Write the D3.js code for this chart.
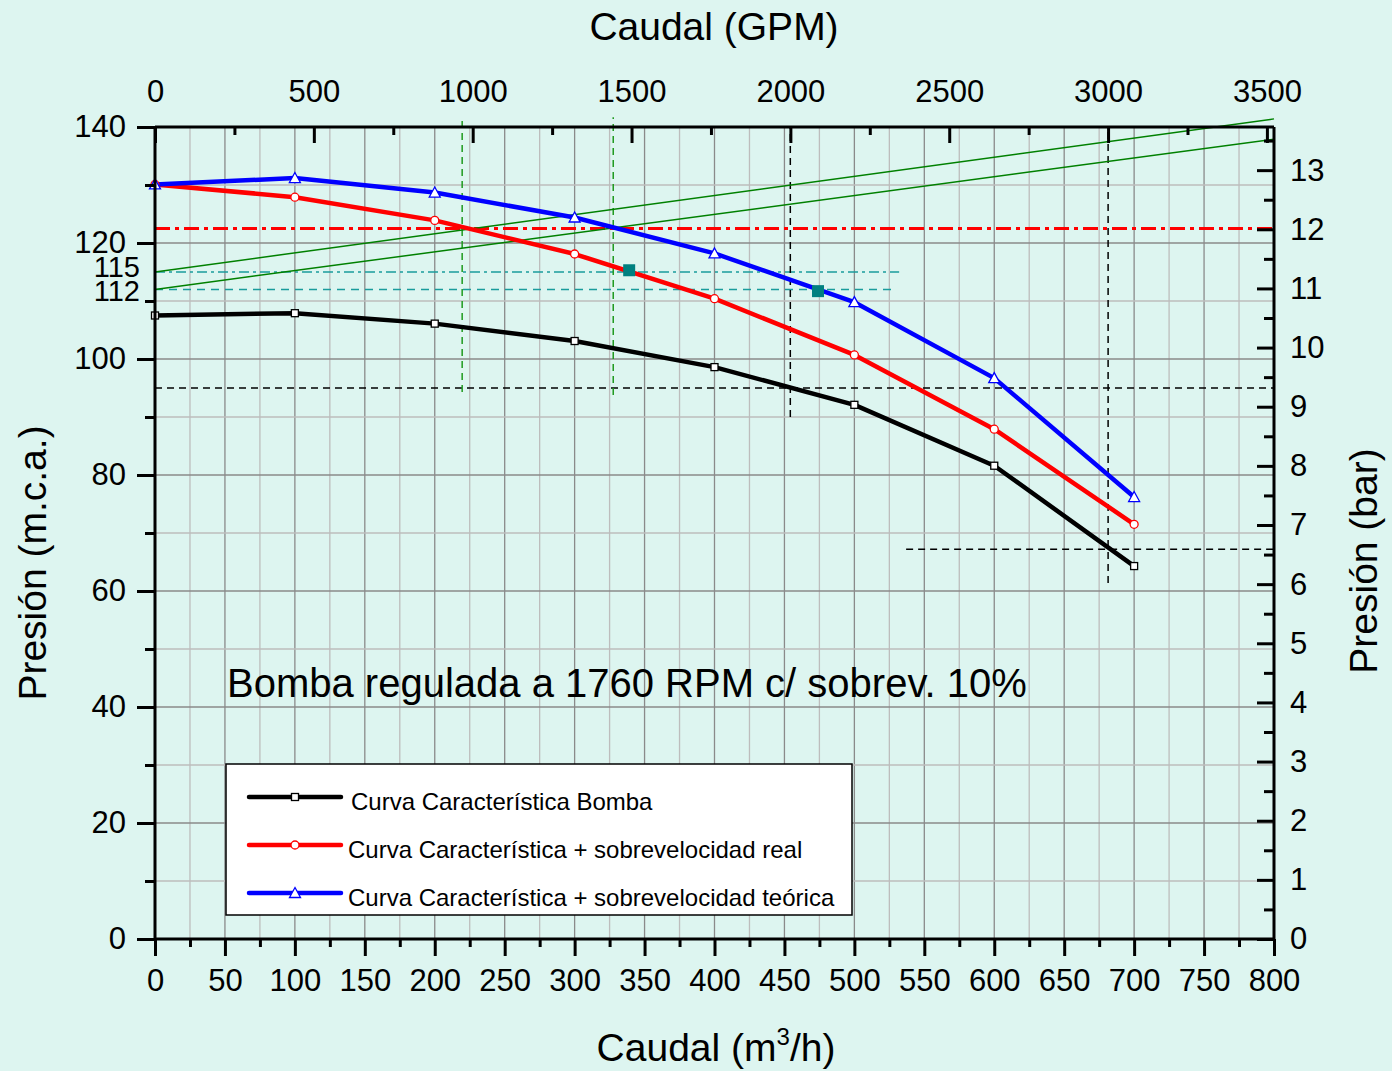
<!DOCTYPE html>
<html>
<head>
<meta charset="utf-8">
<script src="https://cdn.jsdelivr.net/npm/d3@7"></script>
<style>
  body { margin: 0; background: #ddf5f0; }
  svg { display: block; font-family: "Liberation Sans", Arial, sans-serif; }
</style>
</head>
<body>
<svg id="chart" width="1392" height="1071"></svg>
<script>
// ---- data ----
const caudal = [0, 100, 200, 300, 400, 500, 600, 700];
const bomba = [107.5, 107.9, 106.1, 103.1, 98.6, 92.1, 81.6, 64.3];
const sobreReal = [130.1, 127.9, 123.9, 118.1, 110.4, 100.7, 87.9, 71.5];
const sobreTeorica = [130.1, 131.2, 128.7, 124.4, 118.2, 109.8, 96.7, 76.2];
const seriesNames = [
    "Curva Característica Bomba",
    "Curva Característica + sobrevelocidad real",
    "Curva Característica + sobrevelocidad teórica"
];

// tick labels
const bottomTicks = [0, 50, 100, 150, 200, 250, 300, 350, 400, 450, 500, 550, 600, 650, 700, 750, 800];
const leftTicks = [0, 20, 40, 60, 80, 100, 120, 140];
const gpmTicks = [0, 500, 1000, 1500, 2000, 2500, 3000, 3500];
const barTicks = [0, 1, 2, 3, 4, 5, 6, 7, 8, 9, 10, 11, 12, 13];
const extraLeftLabels = [115, 112];

// unit conversions
const M3H_TO_GPM = 4.4029;
const MCA_PER_BAR = 10.197;

// horizontal reference lines (m.c.a.) and their x extent (m3/h)
const hLevels = [122.5, 115, 112, 95, 67.2];
const hFrom = [0, 0, 0, 0, 537];
const hTo = [800, 532, 528, 800, 800];

// vertical reference lines (m3/h) and their y extent (m.c.a.)
const vPositions = [454.2, 681.4, 219.6, 327.6];
const vFrom = [90, 61.4, 94.3, 93.8];
const vTo = [140, 140, 141.7, 141.7];

// two straight system lines: head at 0 and at 800 m3/h
const sysAt0 = [115, 112];
const sysAt800 = [141.4, 137.9];

// operating points
const opCaudal = [339, 474];
const opPresion = [115.3, 111.7];

const note = "Bomba regulada a 1760 RPM c/ sobrev. 10%";

// ---- layout ----
const svg = d3.select("#chart");
const plotLeft = 155, plotRight = 1274, plotTop = 127, plotBottom = 939;

const x = d3.scaleLinear().domain([0, 800]).range([plotLeft, plotRight]);
const y = d3.scaleLinear().domain([0, 140]).range([plotBottom, plotTop]);
const xTop = d3.scaleLinear().domain([0, 800 * M3H_TO_GPM]).range([plotLeft, plotRight]);
const yRight = d3.scaleLinear().domain([0, 140 / MCA_PER_BAR]).range([plotBottom, plotTop]);

svg.append("rect").attr("width", 1392).attr("height", 1071).attr("fill", "#ddf5f0");

// grid
const grid = svg.append("g");
d3.range(25, 800, 25).forEach(v => {
    grid.append("line")
        .attr("x1", x(v)).attr("x2", x(v))
        .attr("y1", plotTop).attr("y2", plotBottom)
        .attr("stroke", v % 50 === 0 ? "#8a8a8a" : "#bdbdbd")
        .attr("stroke-width", 1.3);
});
d3.range(10, 140, 10).forEach(v => {
    grid.append("line")
        .attr("x1", plotLeft).attr("x2", plotRight)
        .attr("y1", y(v)).attr("y2", y(v))
        .attr("stroke", v % 20 === 0 ? "#8a8a8a" : "#bdbdbd")
        .attr("stroke-width", 1.3);
});

// reference lines
const hStyle = [
    { color: "#ff0000", width: 3, dash: "15,5,4,5" },
    { color: "#1a9c9c", width: 1.5, dash: "10,4,3,4" },
    { color: "#1a9c9c", width: 1.5, dash: "8,6" },
    { color: "#000000", width: 1.5, dash: "7,5" },
    { color: "#000000", width: 1.5, dash: "7,5" }
];
hLevels.forEach((v, i) => {
    svg.append("line")
        .attr("x1", x(hFrom[i])).attr("x2", x(hTo[i]))
        .attr("y1", y(v)).attr("y2", y(v))
        .attr("stroke", hStyle[i].color)
        .attr("stroke-width", hStyle[i].width)
        .attr("stroke-dasharray", hStyle[i].dash);
});

const vColor = ["#000000", "#000000", "#1f9a1f", "#1f9a1f"];
vPositions.forEach((v, i) => {
    svg.append("line")
        .attr("x1", x(v)).attr("x2", x(v))
        .attr("y1", y(vFrom[i])).attr("y2", y(vTo[i]))
        .attr("stroke", vColor[i])
        .attr("stroke-width", 1.5)
        .attr("stroke-dasharray", "7,5");
});

sysAt0.forEach((v, i) => {
    svg.append("line")
        .attr("x1", x(0)).attr("x2", x(800))
        .attr("y1", y(v)).attr("y2", y(sysAt800[i]))
        .attr("stroke", "#008000")
        .attr("stroke-width", 1.5);
});

// series
const series = [
    { values: bomba, color: "#000000", marker: "square" },
    { values: sobreReal, color: "#ff0000", marker: "circle" },
    { values: sobreTeorica, color: "#0000ff", marker: "triangle" }
];

const line = d3.line().x(d => x(d[0])).y(d => y(d[1]));

function drawMarker(sel, type, color, cx, cy) {
    if (type === "square") {
        sel.append("rect")
            .attr("x", cx - 3.5).attr("y", cy - 3.5)
            .attr("width", 7).attr("height", 7)
            .attr("fill", "#fff").attr("stroke", color).attr("stroke-width", 1.3);
    } else if (type === "circle") {
        sel.append("circle")
            .attr("cx", cx).attr("cy", cy).attr("r", 4)
            .attr("fill", "#fff").attr("stroke", color).attr("stroke-width", 1.3);
    } else {
        sel.append("path")
            .attr("d", `M${cx},${cy - 5.5} L${cx + 5.5},${cy + 4.5} L${cx - 5.5},${cy + 4.5} Z`)
            .attr("fill", "#fff").attr("stroke", color).attr("stroke-width", 1.3);
    }
}

series.forEach(s => {
    const pts = caudal.map((c, i) => [c, s.values[i]]);
    svg.append("path")
        .attr("d", line(pts))
        .attr("fill", "none")
        .attr("stroke", s.color)
        .attr("stroke-width", 4.5)
        .attr("stroke-linejoin", "round");
});
series.forEach(s => {
    const g = svg.append("g");
    caudal.forEach((c, i) => drawMarker(g, s.marker, s.color, x(c), y(s.values[i])));
});

// operating points
opCaudal.forEach((c, i) => {
    svg.append("rect")
        .attr("x", x(c) - 6).attr("y", y(opPresion[i]) - 6)
        .attr("width", 12).attr("height", 12)
        .attr("fill", "#008080");
});

// frame
const frame = svg.append("g").attr("stroke", "#000").attr("stroke-width", 3);
frame.append("line").attr("x1", plotLeft).attr("x2", plotRight).attr("y1", plotTop).attr("y2", plotTop);
frame.append("line").attr("x1", plotLeft).attr("x2", plotRight).attr("y1", plotBottom).attr("y2", plotBottom);
frame.append("line").attr("x1", plotLeft).attr("x2", plotLeft).attr("y1", plotTop).attr("y2", plotBottom);
frame.append("line").attr("x1", plotRight).attr("x2", plotRight).attr("y1", plotTop).attr("y2", plotBottom);

// axes
function styleAxis(g) {
    g.select(".domain").remove();
    g.selectAll(".tick line").attr("stroke", "#000").attr("stroke-width", 3);
    g.selectAll(".tick text").attr("font-size", 31).attr("fill", "#000")
        .attr("font-family", "\"Liberation Sans\", Arial, sans-serif");
}

const bottomMinor = d3.range(25, 800, 50);
svg.append("g").attr("transform", `translate(0,${plotBottom})`)
    .call(d3.axisBottom(x).tickValues(bottomMinor).tickSize(8).tickFormat(""))
    .call(styleAxis);
svg.append("g").attr("transform", `translate(0,${plotBottom})`)
    .call(d3.axisBottom(x).tickValues(bottomTicks).tickSize(17).tickPadding(13).tickFormat(d3.format("d")))
    .call(styleAxis);

const leftMinor = d3.range(10, 140, 20);
svg.append("g").attr("transform", `translate(${plotLeft},0)`)
    .call(d3.axisLeft(y).tickValues(leftMinor).tickSize(10).tickFormat(""))
    .call(styleAxis);
svg.append("g").attr("transform", `translate(${plotLeft},0)`)
    .call(d3.axisLeft(y).tickValues(leftTicks).tickSize(18).tickPadding(11).tickFormat(d3.format("d")))
    .call(styleAxis);

// extra left labels
svg.append("text").attr("x", 140).attr("y", 277)
    .attr("text-anchor", "end").attr("font-size", 29).text(extraLeftLabels[0]);
svg.append("text").attr("x", 140).attr("y", 301)
    .attr("text-anchor", "end").attr("font-size", 29).text(extraLeftLabels[1]);

// top axis (GPM), ticks point inward
const gpmMinor = d3.range(250, 3500, 500);
svg.append("g").attr("transform", `translate(0,${plotTop})`)
    .call(d3.axisBottom(xTop).tickValues(gpmMinor).tickSize(8).tickFormat(""))
    .call(styleAxis);
svg.append("g").attr("transform", `translate(0,${plotTop})`)
    .call(d3.axisBottom(xTop).tickValues(gpmTicks).tickSize(16).tickFormat(""))
    .call(styleAxis);
svg.append("g").attr("transform", `translate(0,${plotTop})`)
    .call(d3.axisTop(xTop).tickValues(gpmTicks).tickSize(0).tickPadding(25).tickFormat(d3.format("d")))
    .call(styleAxis);

// right axis (bar), ticks point inward
const barMinor = d3.range(0.5, 13.6, 1);
svg.append("g").attr("transform", `translate(${plotRight},0)`)
    .call(d3.axisLeft(yRight).tickValues(barMinor).tickSize(10).tickFormat(""))
    .call(styleAxis);
svg.append("g").attr("transform", `translate(${plotRight},0)`)
    .call(d3.axisLeft(yRight).tickValues(barTicks).tickSize(17).tickFormat(""))
    .call(styleAxis);
svg.append("g").attr("transform", `translate(${plotRight},0)`)
    .call(d3.axisRight(yRight).tickValues(barTicks).tickSize(0).tickPadding(16).tickFormat(d3.format("d")))
    .call(styleAxis);

// axis titles
svg.append("text").attr("x", 714).attr("y", 40)
    .attr("text-anchor", "middle").attr("font-size", 39).text("Caudal (GPM)");

const bt = svg.append("text").attr("x", 716).attr("y", 1061)
    .attr("text-anchor", "middle").attr("font-size", 39);
bt.append("tspan").text("Caudal (m");
bt.append("tspan").attr("font-size", 24).attr("dy", -16).text("3");
bt.append("tspan").attr("dy", 16).text("/h)");

svg.append("text")
    .attr("transform", "translate(46,563) rotate(-90)")
    .attr("text-anchor", "middle").attr("font-size", 39).text("Presión (m.c.a.)");
svg.append("text")
    .attr("transform", "translate(1377,561) rotate(-90)")
    .attr("text-anchor", "middle").attr("font-size", 39).text("Presión (bar)");

// note inside the plot
svg.append("text").attr("x", 227).attr("y", 697)
    .attr("font-size", 40).text(note);

// legend
const legend = svg.append("g");
legend.append("rect")
    .attr("x", 226).attr("y", 764).attr("width", 626).attr("height", 151)
    .attr("fill", "#fff").attr("stroke", "#000").attr("stroke-width", 1.5);
const legendRows = [797, 845, 893];
const legendTextX = [351, 348, 348];
series.forEach((s, i) => {
    legend.append("line")
        .attr("x1", 249).attr("x2", 341)
        .attr("y1", legendRows[i]).attr("y2", legendRows[i])
        .attr("stroke", s.color).attr("stroke-width", 4.5).attr("stroke-linecap", "round");
    drawMarker(legend, s.marker, s.color, 295, legendRows[i]);
    legend.append("text")
        .attr("x", legendTextX[i]).attr("y", legendRows[i] + 13)
        .attr("font-size", 24).text(seriesNames[i]);
});
</script>
</body>
</html>
